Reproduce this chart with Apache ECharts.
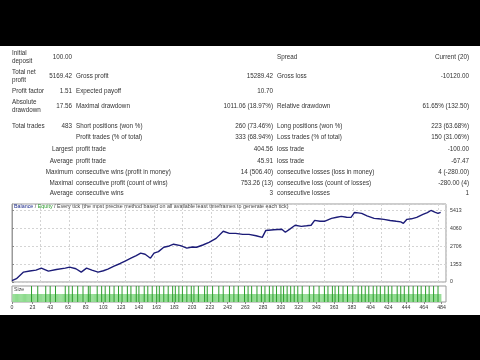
<!DOCTYPE html>
<html><head><meta charset="utf-8">
<script src="https://cdn.jsdelivr.net/npm/echarts@6/dist/echarts.min.js"></script>
<style>html,body{margin:0;padding:0;background:#000}#c{width:480px;height:360px}</style>
</head><body><div id="c"></div>
<script>
// ---- data ----
const tradeIdx = [0,5,13,20,27,33,41,50,60,65,72,78,84,90,97,103,108,115,122,128,134,140,145,150,156,160,165,171,176,182,190,197,203,208,215,222,230,238,245,252,260,267,275,282,286,295,304,308,313,319,326,332,337,341,347,352,356,360,366,371,377,382,386,390,394,400,408,413,419,426,433,438,441,445,450,456,463,468,472,477,480,483];
const balance  = [100,250,750,830,900,1050,825,950,1050,1125,1000,750,1050,900,750,850,975,1200,1400,1600,1800,2000,2180,2100,1800,2180,2300,2630,2700,2860,2750,2560,2650,2630,2800,3000,3300,3840,3680,3680,3600,3600,3500,3380,3900,3950,3990,3760,4000,4290,4210,4250,4290,4660,4600,4590,4700,4810,4900,4960,4900,4890,5260,5230,5190,5000,4810,4780,4740,4650,4590,4550,4440,4740,4780,4890,5110,5250,5410,5260,5190,5269];
const totalTrades = 483;
const bigLotTrades = [22,29,38,43,49,60,64,68,74,80,86,88,96,101,105,110,115,120,124,130,134,140,143,149,153,158,163,166,171,176,181,184,188,192,197,202,205,210,217,220,226,233,238,245,250,255,262,266,270,276,281,285,290,294,298,303,306,310,314,318,322,327,335,340,346,352,356,361,364,368,373,378,384,390,394,398,402,407,411,415,420,424,428,434,438,442,447,452,457,461,466,470,475,480];
const xTicks = [0,23,43,63,83,103,123,143,163,183,203,223,243,263,283,303,323,343,363,383,404,424,444,464,484];
const yTicks = [0,1353,2706,4060,5413];

const statsRows = [
  [['Initial','deposit'],'100.00','','','Spread','Current (20)'],
  [['Total net','profit'],'5169.42','Gross profit','15289.42','Gross loss','-10120.00'],
  [['Profit factor'],'1.51','Expected payoff','10.70','',''],
  [['Absolute','drawdown'],'17.56','Maximal drawdown','1011.06 (18.97%)','Relative drawdown','61.65% (132.50)'],
  [['Total trades'],'483','Short positions (won %)','260 (73.46%)','Long positions (won %)','223 (63.68%)'],
  [[''],'','Profit trades (% of total)','333 (68.94%)','Loss trades (% of total)','150 (31.06%)'],
  [['Largest'],'','profit trade','404.56','loss trade','-100.00'],
  [['Average'],'','profit trade','45.91','loss trade','-67.47'],
  [['Maximum'],'','consecutive wins (profit in money)','14 (506.40)','consecutive losses (loss in money)','4 (-280.00)'],
  [['Maximal'],'','consecutive profit (count of wins)','753.26 (13)','consecutive loss (count of losses)','-280.00 (4)'],
  [['Average'],'','consecutive wins','3','consecutive losses','1']
];

// ---- layout ----
const rowY = [57,76,91,106,126,137,149,161,172,183,193];
const FONT = 'Liberation Sans';
const FS = 6.3;
const TC = '#333';
const g = [];
g.push({type:'rect', shape:{x:0,y:46,width:480,height:269}, style:{fill:'#fff'}, z:-10});
statsRows.forEach((r,i)=>{
  const y = rowY[i];
  const lab = r[0];
  const rightAligned = i >= 6;
  if (lab.length === 2) {
    g.push({type:'text', x:12, y:y-4, style:{text:lab[0], font:FS+'px '+FONT, fill:TC, verticalAlign:'middle'}});
    g.push({type:'text', x:12, y:y+4, style:{text:lab[1], font:FS+'px '+FONT, fill:TC, verticalAlign:'middle'}});
  } else if (lab[0]) {
    g.push({type:'text', x: rightAligned?73:12, y:y, style:{text:lab[0], font:FS+'px '+FONT, fill:TC, align: rightAligned?'right':'left', verticalAlign:'middle'}});
  }
  const cells = [[r[1],72,'right'],[r[2],76,'left'],[r[3],273,'right'],[r[4],277,'left'],[r[5],469,'right']];
  cells.forEach(c=>{ if(c[0]) g.push({type:'text', x:c[1], y:y, style:{text:c[0], font:FS+'px '+FONT, fill:TC, align:c[2], verticalAlign:'middle'}}); });
});
g.push({type:'text', x:14, y:207, z:10, style:{
  text:'{b|Balance} / {e|Equity} / Every tick (the most precise method based on all available least timeframes to generate each tick)',
  font:'5.35px '+FONT, fill:'#444', verticalAlign:'middle',
  rich:{b:{fill:'#1c2a8a', font:'5.35px '+FONT}, e:{fill:'#2a9a2a', font:'5.35px '+FONT}}
}});
g.push({type:'text', x:14, y:289.5, z:10, style:{text:'Size', font:'5.3px '+FONT, fill:'#444', verticalAlign:'middle'}});

const lineData = tradeIdx.map((t,i)=>[t,balance[i]]);
const baseLots = [];
for (let i=1;i<=totalTrades;i++) baseLots.push([i,1]);
const bigLots = bigLotTrades.map(t=>[t,2]);

const chart = echarts.init(document.getElementById('c'), null, {renderer:'canvas'});
chart.setOption({
  backgroundColor:'#000',
  animation:false,
  graphic: g,
  grid:[
    {left:12, right:34, top:204, height:78, show:true, borderColor:'#9a9a9a', borderWidth:1, backgroundColor:'#fff'},
    {left:12, right:34, top:286, height:16, show:true, borderColor:'#9a9a9a', borderWidth:1, backgroundColor:'#fff'}
  ],
  xAxis:[
    {gridIndex:0, type:'value', min:0, max:489, interval:32,
     axisLabel:{show:false}, axisTick:{show:false}, axisLine:{show:false},
     splitLine:{show:true, lineStyle:{color:'#d4d4d4', type:[2,2], width:1}}},
    {gridIndex:1, type:'value', min:0, max:489,
     axisLabel:{customValues:xTicks, fontSize:5.2, fontFamily:FONT, color:'#333', margin:3},
     axisTick:{customValues:xTicks, length:2, lineStyle:{color:'#888'}},
     axisLine:{show:false}, splitLine:{show:false}}
  ],
  yAxis:[
    {gridIndex:0, type:'value', position:'right', min:0, max:5900, interval:1353.25,
     axisLabel:{fontSize:5.2, fontFamily:FONT, color:'#333', margin:4, showMaxLabel:false,
       formatter:v=>{let b=yTicks[0];yTicks.forEach(t=>{if(Math.abs(t-v)<Math.abs(b-v))b=t;});return String(b);}},
     axisTick:{show:true, length:2, lineStyle:{color:'#888'}},
     axisLine:{show:true, lineStyle:{color:'#9a9a9a'}},
     splitLine:{show:true, lineStyle:{color:'#d4d4d4', type:[2,2], width:1}}},
    {gridIndex:1, type:'value', min:0, max:2, show:false}
  ],
  series:[
    {type:'line', xAxisIndex:0, yAxisIndex:0, data:lineData, showSymbol:false, symbol:'none',
     lineStyle:{color:'#1c1c78', width:1.4}, z:5},
    {type:'bar', xAxisIndex:1, yAxisIndex:1, data:baseLots, barWidth:1.2, itemStyle:{color:'#8fdb8f'}, z:3},
    {type:'bar', xAxisIndex:1, yAxisIndex:1, data:bigLots, barWidth:1, barGap:'-100%', itemStyle:{color:'#2e9e2e'}, z:4}
  ]
});
</script></body></html>
